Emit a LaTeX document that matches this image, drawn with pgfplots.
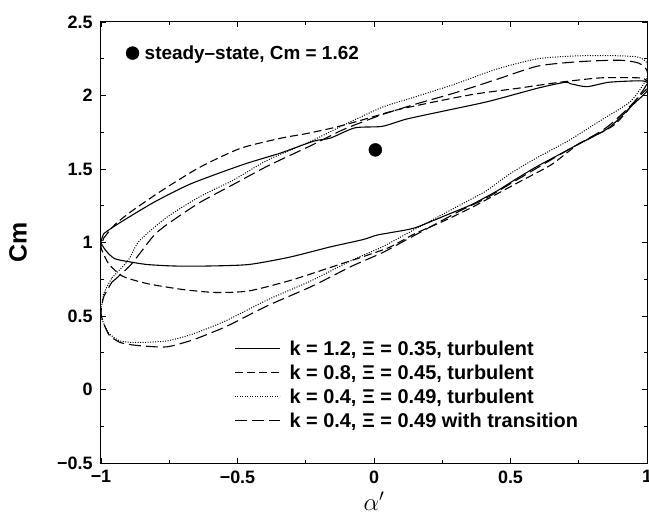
\documentclass[border=0pt]{standalone}
\usepackage{fontspec}
\setmainfont{Liberation Sans}
\usepackage{pgfplots}
\pgfplotsset{compat=1.18}
\newcommand\fs[1]{\fontsize{#1}{#1}\selectfont}
\begin{document}
\begin{tikzpicture}
\begin{axis}[
  name=main,
  scale only axis, width=546bp, height=441bp,
  xmin=-1, xmax=1, ymin=-0.5, ymax=2.5,
  xtick={-1,-0.5,0,0.5,1}, xticklabels={−1,−0.5,0,0.5,1},
  ytick={-0.5,0,0.5,1,1.5,2,2.5}, yticklabels={−0.5,0,0.5,1,1.5,2,2.5},
  minor tick num=1,
  tick align=inside,
  major tick length=5bp, minor tick length=3bp,
  axis line style={line width=1pt},
  tick style={line width=0.8pt, black},
  tick label style={font=\fs{18}\bfseries},
  xticklabel style={yshift=-4bp},
  yticklabel style={xshift=-5bp},
  xlabel={$\alpha'$}, ylabel={Cm},
  xlabel style={font=\fs{26}, at={(axis description cs:0.5,-0.086)}, anchor=center},
  ylabel style={font=\fs{25}\bfseries, at={(axis description cs:-0.152,0.5)}, anchor=center},
  legend style={at={(axis cs:-0.512,0.345)}, anchor=north west, draw=none, fill=none,
    font=\fs{20}\bfseries, row sep=4bp, inner sep=0bp},
  legend cell align=left,
  legend image code/.code={\draw[#1] (0bp,0bp) -- (45bp,0bp); \path (52bp,0bp);},
]
% k = 1.2 solid
\addplot[black, line width=1.1pt, smooth, tension=0.4] coordinates {
(-0.99,1.06)(-0.96,1.10)(-0.90,1.17)(-0.80,1.28)(-0.67,1.40)(-0.48,1.53)(-0.34,1.61)
(-0.22,1.69)(-0.16,1.71)(-0.07,1.78)(0.03,1.79)(0.12,1.84)(0.27,1.90)(0.42,1.96)
(0.60,2.05)(0.70,2.09)(0.72,2.08)(0.78,2.06)(0.86,2.09)(0.97,2.10)(1.00,2.09)
(1.00,2.03)(0.95,1.94)(0.86,1.78)(0.75,1.67)(0.66,1.58)(0.59,1.51)(0.51,1.42)
(0.45,1.35)(0.36,1.26)(0.27,1.19)(0.15,1.10)(0.07,1.07)(0.01,1.05)(-0.04,1.02)
(-0.16,0.97)(-0.31,0.90)(-0.46,0.85)(-0.61,0.84)(-0.73,0.84)(-0.83,0.85)(-0.90,0.87)
(-0.95,0.89)(-0.98,0.94)(-1.00,1.00)(-0.99,1.06)};
\addlegendentry{k = 1.2, Ξ = 0.35, turbulent}
% k = 0.8 short dash
\addplot[black, line width=1.1pt, dash pattern=on 8bp off 4bp, smooth, tension=0.4] coordinates {
(-0.99,1.03)(-0.95,1.12)(-0.89,1.21)(-0.78,1.35)(-0.64,1.51)(-0.49,1.64)(-0.34,1.71)
(-0.25,1.74)(-0.15,1.78)(-0.05,1.83)(0.08,1.90)(0.23,1.96)(0.37,2.01)(0.53,2.05)
(0.68,2.09)(0.83,2.12)(0.97,2.12)(1.00,2.10)
(1.00,2.05)(0.97,1.99)(0.88,1.80)(0.75,1.67)(0.65,1.53)(0.54,1.42)(0.45,1.33)
(0.36,1.24)(0.26,1.15)(0.15,1.06)(0.06,0.97)(-0.03,0.91)(-0.16,0.83)(-0.31,0.74)
(-0.46,0.67)(-0.58,0.66)(-0.70,0.68)(-0.83,0.72)(-0.92,0.77)(-0.97,0.85)(-0.99,0.92)
(-1.00,0.97)(-0.99,1.03)};
\addlegendentry{k = 0.8, Ξ = 0.45, turbulent}
% k = 0.4 dotted
\addplot[black, line width=1.0pt, dash pattern=on 1bp off 1.5bp, smooth, tension=0.4] coordinates {
(-0.96,0.76)(-0.90,0.88)(-0.86,1.01)(-0.76,1.17)(-0.64,1.31)(-0.52,1.42)(-0.39,1.56)
(-0.23,1.69)(-0.11,1.80)(0.03,1.92)(0.15,1.99)(0.30,2.08)(0.45,2.18)(0.60,2.25)
(0.75,2.27)(0.90,2.27)(0.97,2.26)(1.00,2.22)
(1.00,2.12)(0.94,1.96)(0.83,1.83)(0.71,1.69)(0.60,1.58)(0.50,1.47)(0.41,1.35)
(0.32,1.26)(0.23,1.17)(0.12,1.06)(0.03,0.97)(-0.08,0.88)(-0.23,0.74)(-0.39,0.61)
(-0.54,0.47)(-0.66,0.38)(-0.76,0.33)(-0.87,0.32)(-0.93,0.33)(-0.97,0.38)(-0.99,0.45)
(-1.00,0.51)(-0.99,0.65)(-0.96,0.76)};
\addlegendentry{k = 0.4, Ξ = 0.49, turbulent}
% k = 0.4 with transition, long dash
\addplot[black, line width=1.1pt, dash pattern=on 12bp off 5bp, smooth, tension=0.4] coordinates {
(-0.96,0.73)(-0.89,0.85)(-0.81,1.04)(-0.76,1.12)(-0.64,1.27)(-0.52,1.39)(-0.39,1.52)
(-0.23,1.66)(-0.11,1.77)(0.03,1.87)(0.15,1.94)(0.30,2.02)(0.45,2.11)(0.60,2.20)
(0.75,2.23)(0.90,2.24)(0.97,2.22)(1.00,2.17)
(1.00,2.08)(0.95,1.95)(0.85,1.78)(0.72,1.64)(0.60,1.51)(0.50,1.40)(0.41,1.30)
(0.32,1.22)(0.23,1.13)(0.12,1.02)(0.03,0.93)(-0.08,0.84)(-0.23,0.70)(-0.39,0.57)
(-0.54,0.43)(-0.66,0.34)(-0.76,0.29)(-0.87,0.30)(-0.93,0.32)(-0.97,0.37)(-0.99,0.45)
(-1.00,0.52)(-0.99,0.63)(-0.96,0.73)};
\addlegendentry{k = 0.4, Ξ = 0.49 with transition}
\end{axis}
\begin{axis}[
  scale only axis, width=546bp, height=441bp,
  xmin=-1, xmax=1, ymin=-0.5, ymax=2.5,
  hide axis,
  legend style={at={(axis cs:-0.909,2.355)}, anchor=north west, draw=none, fill=none,
    font=\fs{19}\bfseries, inner sep=0bp},
  legend image code/.code={\draw[#1] plot coordinates {(4bp,0bp)};\path (14bp,0bp);},
]
\addplot[only marks, mark=*, mark size=6.5bp, black] coordinates {(0.005,1.63)};
\addlegendentry{steady--state, Cm = 1.62}
\end{axis}
\pgfresetboundingbox
\path[use as bounding box] ([shift={(-101bp,-49bp)}]main.south west) rectangle ([shift={(2bp,22bp)}]main.north east);
\end{tikzpicture}
\end{document}
